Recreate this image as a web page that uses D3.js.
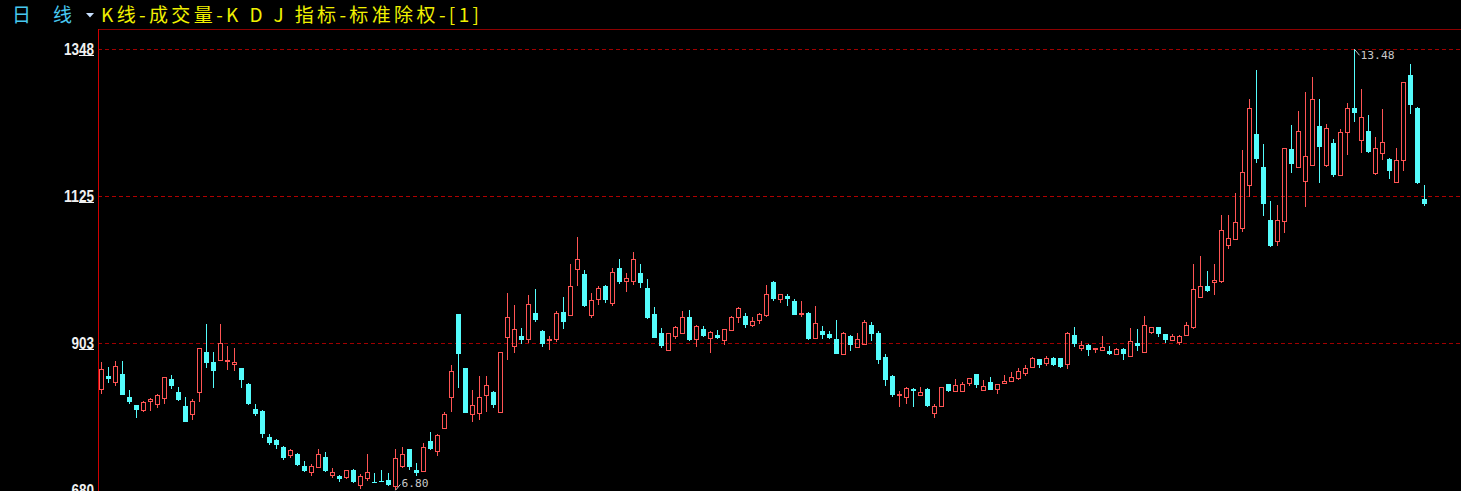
<!DOCTYPE html>
<html><head><meta charset="utf-8">
<script src="https://cdn.jsdelivr.net/npm/d3@7"></script>
<style>html,body{margin:0;padding:0;background:#000;overflow:hidden}</style>
</head><body>
<svg id="c" width="1461" height="491"></svg>
<script>
const openP=[8.34,8.53,8.44,8.56,8.21,8.09,8.02,8.16,8.10,8.20,
8.49,8.29,8.08,7.96,8.29,8.89,8.74,8.78,8.76,8.71,
8.65,8.41,8.03,8.00,7.61,7.56,7.45,7.33,7.35,7.17,
7.08,7.15,7.30,7.03,7.01,7.00,7.11,6.88,6.99,6.93,
6.94,6.95,6.87,7.17,7.42,7.11,7.09,7.54,7.40,7.75,
8.22,9.47,8.65,7.96,7.97,8.24,8.29,7.99,9.12,8.99,
9.13,9.09,9.48,9.21,9.07,9.09,9.50,9.46,10.15,10.08,
9.46,9.70,9.89,9.63,10.17,9.97,9.97,10.09,9.86,9.47,
9.18,8.92,9.14,9.18,9.42,9.09,9.24,9.11,9.15,9.08,
9.23,9.43,9.44,9.31,9.38,9.45,9.95,9.70,9.74,9.66,
9.47,9.48,9.11,9.21,9.16,9.09,8.87,9.14,8.97,9.02,
9.30,9.18,8.82,8.53,8.25,8.21,8.33,8.24,8.33,7.97,
8.08,8.41,8.30,8.31,8.42,8.56,8.32,8.44,8.34,8.43,
8.45,8.50,8.58,8.67,8.79,8.73,8.80,8.80,8.72,9.15,
8.95,9.00,8.94,8.92,8.91,8.86,8.94,8.83,9.03,8.90,
9.20,9.27,9.17,9.08,9.05,9.15,9.27,9.73,9.90,9.96,
9.97,10.51,10.61,10.78,11.43,12.20,11.70,10.89,10.58,10.88,
11.97,11.69,11.49,11.73,12.32,11.72,12.06,11.58,12.22,12.59,
12.11,12.24,11.60,11.91,11.82,11.47,11.80,13.09,12.59,11.22];
const closeP=[8.63,8.49,8.69,8.25,8.13,8.02,8.13,8.18,8.24,8.51,
8.38,8.17,7.84,8.15,8.96,8.73,8.60,9.03,8.78,8.75,
8.47,8.11,7.95,7.66,7.51,7.48,7.29,7.41,7.18,7.09,
7.17,7.35,7.09,7.08,6.97,7.11,6.92,7.01,7.08,6.92,
6.93,6.88,7.29,7.35,7.15,7.06,7.45,7.42,7.64,7.96,
8.61,8.86,7.97,8.09,8.22,8.39,8.09,8.90,9.42,9.25,
9.07,9.62,9.38,9.01,9.09,9.48,9.35,9.89,10.31,9.59,
9.69,9.87,9.69,10.10,9.96,10.01,10.30,9.94,9.41,9.11,
8.99,9.19,9.27,9.42,9.08,9.29,9.14,9.20,9.11,9.24,
9.42,9.56,9.31,9.36,9.47,9.78,9.70,9.77,9.70,9.46,
9.49,9.09,9.33,9.15,9.11,8.87,9.18,9.00,9.09,9.35,
9.16,8.78,8.47,8.24,8.26,8.35,8.31,8.29,8.07,8.07,
8.37,8.30,8.39,8.41,8.50,8.39,8.38,8.32,8.41,8.45,
8.51,8.61,8.65,8.80,8.70,8.80,8.70,8.67,9.18,9.01,
9.00,8.92,8.95,8.97,8.86,8.94,8.86,9.06,8.98,9.30,
9.27,9.17,9.08,9.14,9.14,9.30,9.85,9.90,9.82,9.98,
10.74,10.62,10.87,11.62,12.59,11.82,11.13,10.50,10.89,11.99,
11.75,12.24,11.87,12.72,12.00,12.29,11.57,12.23,12.59,12.52,
12.45,11.93,11.99,12.07,11.63,11.80,12.98,12.64,11.45,11.13];
const highP=[8.74,8.67,8.76,8.76,8.32,8.09,8.15,8.20,8.26,8.51,
8.54,8.36,8.21,8.18,8.96,9.32,8.89,9.32,8.99,8.96,
8.65,8.43,8.11,8.01,7.65,7.58,7.47,7.42,7.36,7.24,
7.20,7.42,7.38,7.14,7.03,7.11,7.12,7.04,7.35,7.06,
7.11,7.06,7.42,7.45,7.42,7.21,7.51,7.68,7.65,7.98,
8.70,9.47,8.65,8.32,8.53,8.53,8.30,8.90,9.79,9.61,
9.26,9.76,9.85,9.23,9.14,9.51,9.73,10.23,10.64,10.13,
9.79,9.89,9.91,10.17,10.30,10.09,10.41,10.23,10.00,9.58,
9.26,9.19,9.29,9.51,9.53,9.30,9.29,9.21,9.23,9.25,
9.44,9.58,9.48,9.43,9.49,9.91,9.97,9.78,9.77,9.70,
9.67,9.50,9.59,9.29,9.21,9.38,9.20,9.15,9.18,9.38,
9.35,9.21,8.86,8.54,8.30,8.36,8.35,8.36,8.35,8.11,
8.37,8.41,8.48,8.44,8.50,8.56,8.47,8.51,8.41,8.54,
8.59,8.65,8.70,8.82,8.79,8.83,8.82,8.80,9.20,9.27,
9.06,9.01,8.96,9.14,8.98,8.95,8.95,9.26,9.24,9.44,
9.27,9.27,9.17,9.17,9.15,9.35,10.23,10.35,10.12,10.23,
10.97,10.97,11.30,11.95,12.72,13.17,12.04,11.18,11.12,11.99,
12.33,12.55,12.83,13.06,12.73,12.35,12.12,12.27,12.67,13.48,
12.88,12.48,12.15,12.58,11.83,11.98,12.98,13.26,12.61,11.43];
const lowP=[8.26,8.43,8.38,8.25,8.10,7.90,7.99,8.00,8.05,8.11,
8.33,8.16,7.84,7.87,8.14,8.66,8.35,8.78,8.62,8.60,
8.35,8.09,7.92,7.59,7.49,7.42,7.26,7.29,7.17,7.08,
7.01,7.14,7.08,6.98,6.92,6.97,6.91,6.82,6.94,6.91,
6.92,6.86,6.80,7.14,7.11,7.01,7.08,7.41,7.32,7.73,
7.99,8.35,7.97,7.84,7.87,7.99,8.05,7.97,8.78,8.88,
9.01,9.03,9.35,8.97,8.92,9.04,9.25,9.46,9.90,9.58,
9.41,9.61,9.64,9.59,9.93,9.81,9.91,9.87,9.40,9.10,
8.96,8.91,9.09,9.18,9.06,8.97,9.12,8.88,9.09,9.00,
9.21,9.33,9.26,9.28,9.32,9.43,9.67,9.63,9.59,9.46,
9.43,9.08,9.11,9.09,9.09,8.87,8.87,8.91,8.95,9.02,
9.06,8.72,8.38,8.21,8.06,8.11,8.06,8.24,8.06,7.90,
8.06,8.29,8.30,8.29,8.38,8.35,8.32,8.32,8.26,8.43,
8.44,8.47,8.53,8.66,8.66,8.69,8.68,8.65,8.64,8.97,
8.91,8.83,8.88,8.91,8.85,8.85,8.77,8.83,8.91,8.90,
9.16,9.12,9.03,9.06,9.00,9.14,9.24,9.73,9.80,9.76,
9.94,10.46,10.59,10.72,11.24,11.76,10.96,10.49,10.50,10.70,
11.60,11.69,11.09,11.73,11.46,11.70,11.55,11.56,11.88,12.38,
11.91,11.91,11.58,11.81,11.52,11.47,11.63,12.50,11.44,11.10];
const tickValues=[13.48,11.25,9.03,6.80];
const tickInt=["13","11","9","6"];
const tickDec=["48","25","03","80"];
const titleLeft=["日","线"];
const titleMain="K线-成交量-K D J 指标-标准除权-[1]";

const W=1461,H=491;
const RED="#ff5454",CYAN="#54fcfc";
const svg=d3.select("#c");
svg.append("rect").attr("width",W).attr("height",H).attr("fill","#000");

const idx=d3.range(openP.length);
const x=d3.scaleBand().domain(idx).range([98,98+7*idx.length]).padding(0);
const y=d3.scaleLinear().domain([6.80,13.48]).range([490.3,49.3]);

// grid lines
tickValues.forEach((v,k)=>{
  const gy=Math.floor(y(v));
  if(k<tickValues.length-1){
    svg.append("line").attr("x1",98).attr("x2",W).attr("y1",gy+0.5).attr("y2",gy+0.5)
      .attr("stroke",k===1?"#b00000":"#a00000").attr("stroke-width",1).attr("stroke-dasharray","4,3");
  }
  const base=gy+6;
  svg.append("text").attr("x",79).attr("y",base).attr("text-anchor","end")
    .attr("font-family","Liberation Sans, Arial, sans-serif").attr("font-weight","bold").attr("font-size",16)
    .attr("textLength",7.5*tickInt[k].length).attr("lengthAdjust","spacingAndGlyphs")
    .attr("fill","#f0f0f0").text(tickInt[k]);
  svg.append("text").attr("x",79).attr("y",base)
    .attr("font-family","Liberation Sans, Arial, sans-serif").attr("font-weight","bold").attr("font-size",16)
    .attr("textLength",15).attr("lengthAdjust","spacingAndGlyphs")
    .attr("fill","#f0f0f0").text(tickDec[k]);
  svg.append("line").attr("x1",79).attr("x2",94).attr("y1",base+0.5).attr("y2",base+0.5)
    .attr("stroke","#f0f0f0").attr("stroke-width",1);
});

// frame lines
svg.append("line").attr("x1",98).attr("x2",W).attr("y1",29.5).attr("y2",29.5).attr("stroke","#8c0000");
svg.append("line").attr("x1",98.5).attr("x2",98.5).attr("y1",29).attr("y2",H).attr("stroke","#d00000");

// candles
const g=svg.append("g");
idx.forEach(i=>{
  const o=openP[i],c=closeP[i],h=highP[i],l=lowP[i];
  const cx=x(i)+x.bandwidth()/2;
  const up=c>=o;
  const top=Math.round(y(Math.max(o,c))), bot=Math.round(y(Math.min(o,c)));
  const yh=Math.round(y(h)), yl=Math.round(y(l));
  if(up){
    if(yh<top) g.append("line").attr("x1",cx).attr("x2",cx).attr("y1",yh).attr("y2",top).attr("stroke",RED);
    if(yl>bot) g.append("line").attr("x1",cx).attr("x2",cx).attr("y1",bot).attr("y2",yl).attr("stroke",RED);
    if(bot-top<=1){
      g.append("rect").attr("x",cx-2.5).attr("y",top).attr("width",5).attr("height",Math.max(1,bot-top+1)).attr("fill",RED);
    } else {
      g.append("rect").attr("x",cx-2).attr("y",top+0.5).attr("width",4).attr("height",bot-top)
        .attr("fill","none").attr("stroke",RED).attr("stroke-width",1);
    }
  } else {
    g.append("line").attr("x1",cx).attr("x2",cx).attr("y1",yh).attr("y2",yl).attr("stroke",CYAN);
    g.append("rect").attr("x",cx-2.5).attr("y",top).attr("width",5).attr("height",Math.max(1,bot-top)).attr("fill",CYAN);
  }
});

// max / min markers
const fmt=d3.format(".2f");
const iMax=d3.maxIndex(highP), iMin=d3.minIndex(lowP);
{
  const cx=x(iMax)+x.bandwidth()/2, yy=y(highP[iMax]);
  svg.append("line").attr("x1",cx).attr("y1",yy).attr("x2",cx+5).attr("y2",yy+6).attr("stroke","#c8c8c8");
  svg.append("text").attr("x",cx+6).attr("y",yy+10).attr("font-family","DejaVu Sans Mono, monospace")
    .attr("font-size",11).attr("textLength",34).attr("lengthAdjust","spacingAndGlyphs").attr("fill","#c8c8c8").text(fmt(highP[iMax]));
}
{
  const cx=x(iMin)+x.bandwidth()/2, yy=y(lowP[iMin]);
  svg.append("line").attr("x1",cx).attr("y1",yy).attr("x2",cx+5).attr("y2",yy-6).attr("stroke","#c8c8c8");
  svg.append("text").attr("x",cx+6).attr("y",yy-3).attr("font-family","DejaVu Sans Mono, monospace")
    .attr("font-size",11).attr("textLength",27).attr("lengthAdjust","spacingAndGlyphs").attr("fill","#c8c8c8").text(fmt(lowP[iMin]));
}

// header
const hf="Noto Sans CJK SC, sans-serif";
svg.append("text").attr("x",12).attr("y",22).attr("font-family",hf).attr("font-size",19).attr("fill","#48c8f0").text(titleLeft[0]);
svg.append("text").attr("x",53).attr("y",22).attr("font-family",hf).attr("font-size",19).attr("fill","#48c8f0").text(titleLeft[1]);
svg.append("path").attr("d","M86,13 L94,13 L90,17.5 Z").attr("fill","#c8e0ff");
svg.append("text").attr("x",101).attr("y",22).attr("font-family",hf).attr("font-size",19)
  .attr("textLength",378).attr("lengthAdjust","spacing").attr("fill","#f0f000").text(titleMain);
</script>
</body></html>
